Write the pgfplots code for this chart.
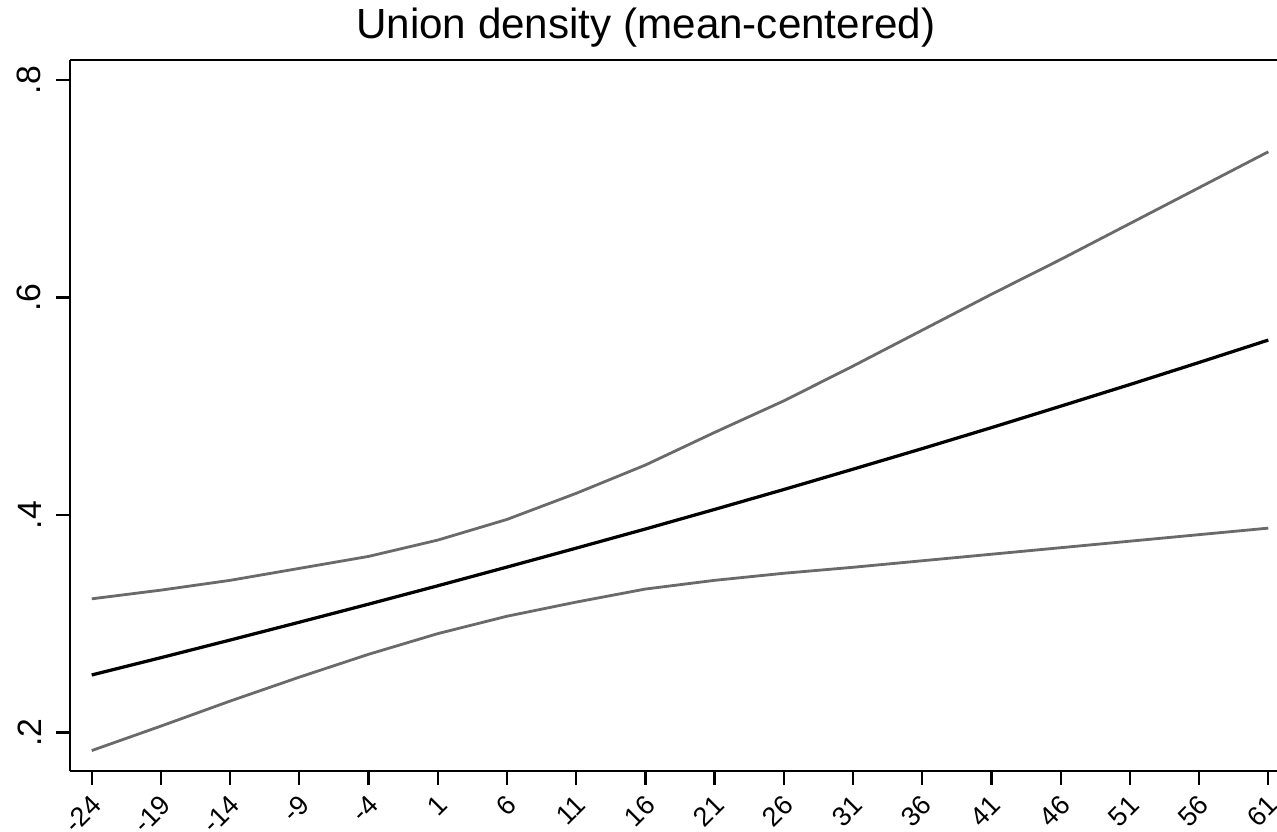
\documentclass[border=0pt]{standalone}
\usepackage{fontspec}
\setmainfont{Liberation Sans}
\usepackage{pgfplots}
\pgfplotsset{compat=1.18}
\usetikzlibrary{calc}
\definecolor{cigray}{HTML}{6A6A6A}
\pgfplotsset{
    every non boxed y axis/.append style={y axis line style={-}, ytick align=outside},
}

\begin{document}
\begin{tikzpicture}
\begin{axis}[
    name=ax,
    scale only axis,
    width=15.09cm, height=8.8875cm,
    xmin=-25.57, xmax=61.63,
    ymin=0.1648, ymax=0.8184,
    axis x line=box,
    axis y line=left,
    axis line style={line width=0.9pt, -},
    xtick pos=bottom,
    tick align=outside,
    major tick length=0.175cm,
    tick style={line width=0.8pt, black},
    xtick={-24,-19,...,61},
    xticklabels={-24,-19,-14,-9,-4,1,6,11,16,21,26,31,36,41,46,51,56,61},
    ytick={0.2,0.4,0.6,0.8},
    yticklabels={.2,.4,.6,.8},
    yticklabel style={font=\fontsize{12}{14}\selectfont, xshift=-0.06cm, rotate=90, anchor=south},
    xticklabel style={font=\fontsize{9.6}{11}\selectfont, xshift=-0.025cm, yshift=-0.1cm,
                      rotate=45, anchor=north east, inner sep=0pt},
    clip=false,
]
% upper bound
\addplot[cigray, line width=1.0pt] coordinates {
(-24,0.323) (-19,0.331) (-14,0.340) (-9,0.351) (-4,0.362) (1,0.377)
(6,0.396) (11,0.420) (16,0.446) (21,0.476) (26,0.505) (31,0.537)
(36,0.570) (41,0.603) (46,0.635) (51,0.668) (56,0.701) (61,0.734)};
% estimate
\addplot[black, line width=1.15pt] coordinates {
(-24,0.2530) (-19,0.2689) (-14,0.2851) (-9,0.3015) (-4,0.3181) (1,0.3350)
(6,0.3522) (11,0.3696) (16,0.3872) (21,0.4052) (26,0.4235) (31,0.4422)
(36,0.4611) (41,0.4804) (46,0.5001) (51,0.5200) (56,0.5403) (61,0.5609)};
% lower bound
\addplot[cigray, line width=1.0pt] coordinates {
(-24,0.1835) (-19,0.206) (-14,0.229) (-9,0.251) (-4,0.272) (1,0.291)
(6,0.307) (11,0.320) (16,0.332) (21,0.340) (26,0.3465) (31,0.352)
(36,0.358) (41,0.364) (46,0.370) (51,0.376) (56,0.382) (61,0.388)};
\node[anchor=base, font=\fontsize{15}{18}\selectfont] at (rel axis cs:0.477,1) [yshift=0.2625cm] {Union density (mean-centered)};
\end{axis}
\pgfresetboundingbox
\path[use as bounding box] ($(ax.south west)+(-0.875cm,-0.7625cm)$) rectangle ($(ax.north east)+(0,0.75cm)$);
\end{tikzpicture}
\end{document}
